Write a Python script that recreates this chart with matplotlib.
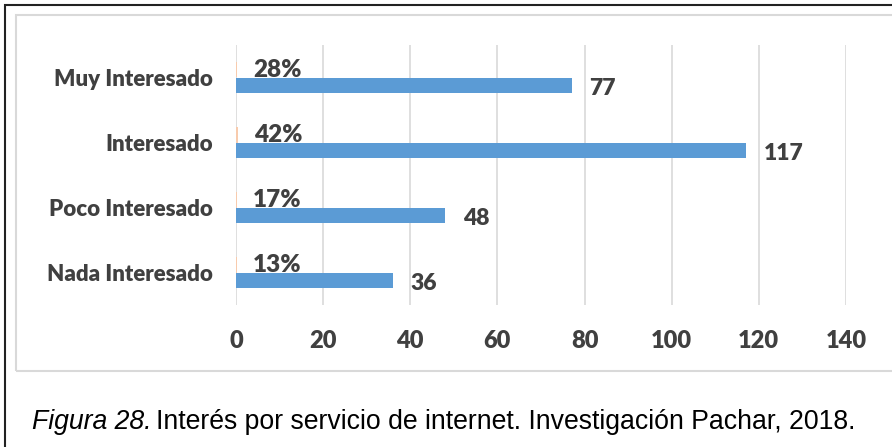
import numpy as np
import matplotlib.pyplot as plt
from matplotlib.patches import Rectangle

categorias = ['Muy Interesado', 'Interesado', 'Poco Interesado', 'Nada Interesado']
cantidad = [77, 117, 48, 36]
porcentaje = [0.28, 0.42, 0.17, 0.13]
etiquetas_pct = ['28%', '42%', '17%', '13%']
ticks_x = [0, 20, 40, 60, 80, 100, 120, 140]

W, H = 892, 447
fig = plt.figure(figsize=(W / 100, H / 100), dpi=100)
gris = '#404040'
fuente = 'Lato'
peso = 'heavy'

# marcos
fig.patches.append(Rectangle((5 / W, -0.1), 2, 1 - 5 / H + 0.1, transform=fig.transFigure,
                             fill=False, edgecolor='#222222', linewidth=1.5))
fig.patches.append(Rectangle((16 / W, 1 - 371 / H), 2, (371 - 15) / H, transform=fig.transFigure,
                             fill=False, edgecolor='#d9d9d9', linewidth=1.5))

ax = fig.add_axes([236 / W, 1 - 305 / H, (846 - 236) / W, 260 / H])
y = np.arange(len(categorias))
h = 0.246
ax.barh(y - h / 2, porcentaje, height=h, color='#F8CBAD', zorder=3)
ax.barh(y + h / 2, cantidad, height=h, color='#5B9BD5', zorder=3)

for i in range(len(categorias)):
    ax.annotate(etiquetas_pct[i], (porcentaje[i], y[i] - h / 2), xytext=(11.5, 0),
                textcoords='offset points', va='center', ha='left',
                fontsize=17.5, fontweight=peso, color=gris, family=fuente)
    ax.annotate(str(cantidad[i]), (cantidad[i], y[i] + h / 2), xytext=(13, -2),
                textcoords='offset points', va='center', ha='left',
                fontsize=16.5, fontweight=peso, color=gris, family=fuente)

ax.set_xlim(0, 140)
ax.set_ylim(3.5, -0.5)
ax.set_xticks(ticks_x)
ax.set_yticks(y)
ax.set_yticklabels(categorias)
ax.grid(axis='x', color='#d9d9d9', linewidth=1.2, zorder=0)
for s in ax.spines.values():
    s.set_visible(False)
ax.tick_params(length=0)
ax.tick_params(axis='y', pad=16.5)
ax.tick_params(axis='x', pad=18)
for lab in ax.get_yticklabels() + ax.get_xticklabels():
    lab.set_fontfamily(fuente)
    lab.set_fontweight(peso)
    lab.set_color(gris)
    lab.set_fontsize(16)
for lab in ax.get_xticklabels():
    lab.set_fontsize(17)

# pie de figura
t1 = fig.text(32 / W, 1 - 422 / H, 'Figura 28.', style='italic', fontsize=19.2,
              family='Liberation Sans', va='center', ha='left', color='black')
fig.canvas.draw()
bb = t1.get_window_extent()
fig.text((bb.x1 + 5) / W, 1 - 422 / H, 'Interés por servicio de internet. Investigación Pachar, 2018.',
         fontsize=19.2, family='Liberation Sans', va='center', ha='left', color='black')

fig.savefig('out.png', dpi=100)
